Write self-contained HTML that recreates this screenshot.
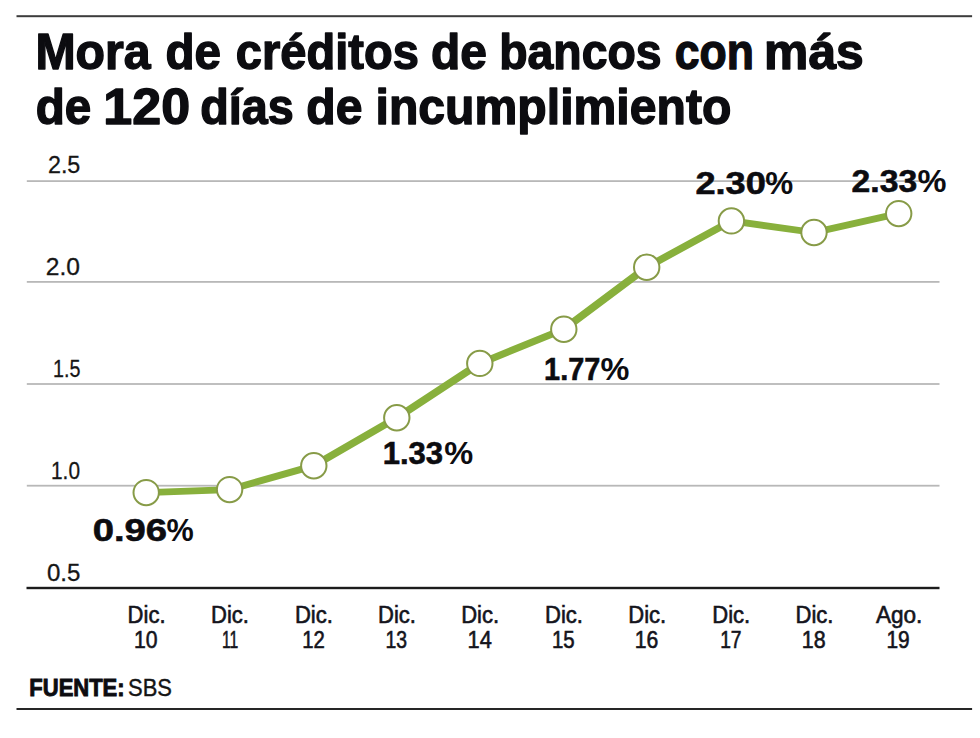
<!DOCTYPE html>
<html lang="es">
<head>
<meta charset="utf-8">
<title>Mora de créditos de bancos</title>
<style>
html,body{margin:0;padding:0;background:#fff;}
body{width:980px;height:738px;overflow:hidden;font-family:"Liberation Sans",sans-serif;}
svg{display:block;position:absolute;left:0;top:0;}
text{font-family:"Liberation Sans",sans-serif;fill:#111;}
.title{font-weight:bold;fill:#0c0c10;stroke:#0c0c10;stroke-width:1.4px;stroke-linejoin:round;}
.ylab{fill:#161616;stroke:#161616;stroke-width:0.3px;}
.xlab{fill:#14141c;stroke:#14141c;stroke-width:0.6px;}
.val{font-weight:bold;fill:#0c0c10;stroke:#0c0c10;stroke-width:0.6px;}
.pct{font-weight:bold;fill:#0c0c10;}
.src{fill:#141414;stroke:#141414;stroke-width:0.4px;}
.srcb{fill:#0c0c10;stroke:#0c0c10;stroke-width:0.9px;}
</style>
</head>
<body>
<svg width="980" height="738" viewBox="0 0 980 738">
  <rect x="0" y="0" width="980" height="738" fill="#ffffff"/>
  <!-- top & bottom rules -->
  <rect x="16.5" y="15.2" width="955.6" height="2" fill="#3c3c3c"/>
  <rect x="16.5" y="708" width="955.6" height="2" fill="#262626"/>
  <!-- gridlines -->
  <rect x="26.8" y="180.2" width="912.7" height="1.8" fill="#b8b8b8"/>
  <rect x="26.8" y="281.0" width="912.7" height="1.8" fill="#b8b8b8"/>
  <rect x="26.8" y="383.1" width="912.7" height="1.8" fill="#b8b8b8"/>
  <rect x="26.8" y="484.8" width="912.7" height="1.8" fill="#b8b8b8"/>
  <rect x="26.5" y="586.8" width="913" height="2.4" fill="#1c1c1c"/>
  <!-- title -->
  <text class="title" x="35.41" y="69.2" font-size="50" font-weight="bold" textLength="115.24" lengthAdjust="spacingAndGlyphs">Mora</text>
  <text class="title" x="165.50" y="69.2" font-size="50" font-weight="bold" textLength="55.57" lengthAdjust="spacingAndGlyphs">de</text>
  <text class="title" x="235.76" y="69.2" font-size="50" font-weight="bold" textLength="183.14" lengthAdjust="spacingAndGlyphs">créditos</text>
  <text class="title" x="430.88" y="69.2" font-size="50" font-weight="bold" textLength="55.99" lengthAdjust="spacingAndGlyphs">de</text>
  <text class="title" x="499.22" y="69.2" font-size="50" font-weight="bold" textLength="162.36" lengthAdjust="spacingAndGlyphs">bancos</text>
  <text class="title" x="674.71" y="69.2" font-size="50" font-weight="bold" textLength="79.15" lengthAdjust="spacingAndGlyphs">con</text>
  <text class="title" x="764.11" y="69.2" font-size="50" font-weight="bold" textLength="99.69" lengthAdjust="spacingAndGlyphs">más</text>
  <text class="title" x="35.70" y="124.1" font-size="50" font-weight="bold" textLength="55.57" lengthAdjust="spacingAndGlyphs">de</text>
  <text class="title" x="103.38" y="124.1" font-size="50" font-weight="bold" textLength="86.70" lengthAdjust="spacingAndGlyphs">120</text>
  <text class="title" x="200.13" y="124.1" font-size="50" font-weight="bold" textLength="93.56" lengthAdjust="spacingAndGlyphs">días</text>
  <text class="title" x="306.27" y="124.1" font-size="50" font-weight="bold" textLength="56.20" lengthAdjust="spacingAndGlyphs">de</text>
  <text class="title" x="375.51" y="124.1" font-size="50" font-weight="bold" textLength="355.88" lengthAdjust="spacingAndGlyphs">incumplimiento</text>
  <!-- y axis labels -->
  <text class="ylab" x="47.93" y="173.2" font-size="24" textLength="32.41" lengthAdjust="spacingAndGlyphs">2.5</text>
  <text class="ylab" x="45.88" y="274.6" font-size="24" textLength="34.18" lengthAdjust="spacingAndGlyphs">2.0</text>
  <text class="ylab" x="53.08" y="377.3" font-size="24" textLength="27.41" lengthAdjust="spacingAndGlyphs">1.5</text>
  <text class="ylab" x="51.03" y="479.2" font-size="24" textLength="28.97" lengthAdjust="spacingAndGlyphs">1.0</text>
  <text class="ylab" x="46.90" y="580.8" font-size="24" textLength="33.45" lengthAdjust="spacingAndGlyphs">0.5</text>
  <!-- data line -->
  <g transform="scale(1.3,1)"><polyline fill="none" stroke="#88b03c" stroke-width="6.8" stroke-linejoin="round" stroke-linecap="round" points="112.462,492.6 176.615,489.6 241.385,465.8 305.231,417.8 369.077,363.4 433.692,329.3 497.462,267.2 562.615,220.9 626.154,232.5 691.308,213.6"/></g>
  <g fill="#ffffff" stroke="#879b47" stroke-width="2">
    <circle cx="146.2" cy="492.6" r="12.7"/>
    <circle cx="229.6" cy="489.6" r="12.7"/>
    <circle cx="313.8" cy="465.8" r="12.7"/>
    <circle cx="396.8" cy="417.8" r="12.7"/>
    <circle cx="479.8" cy="363.4" r="12.7"/>
    <circle cx="563.8" cy="329.3" r="12.7"/>
    <circle cx="646.7" cy="267.2" r="12.7"/>
    <circle cx="731.4" cy="220.9" r="12.7"/>
    <circle cx="814" cy="232.5" r="12.7"/>
    <circle cx="898.7" cy="213.6" r="12.7"/>
  </g>
  <!-- value labels -->
  <text class="val" x="92.70" y="541.0" font-size="32" font-weight="bold" textLength="74.45" lengthAdjust="spacingAndGlyphs">0.96</text>
  <text class="pct" x="166.60" y="541.0" font-size="32" font-weight="bold" textLength="27.23" lengthAdjust="spacingAndGlyphs">%</text>
  <text class="val" x="382.66" y="464.2" font-size="32" font-weight="bold" textLength="60.41" lengthAdjust="spacingAndGlyphs">1.33</text>
  <text class="pct" x="444.30" y="464.2" font-size="32" font-weight="bold" textLength="28.96" lengthAdjust="spacingAndGlyphs">%</text>
  <text class="val" x="544.09" y="379.5" font-size="32" font-weight="bold" textLength="56.22" lengthAdjust="spacingAndGlyphs">1.77</text>
  <text class="pct" x="600.40" y="379.5" font-size="32" font-weight="bold" textLength="28.86" lengthAdjust="spacingAndGlyphs">%</text>
  <text class="val" x="695.47" y="194.0" font-size="32" font-weight="bold" textLength="70.33" lengthAdjust="spacingAndGlyphs">2.30</text>
  <text class="pct" x="765.20" y="194.0" font-size="32" font-weight="bold" textLength="27.95" lengthAdjust="spacingAndGlyphs">%</text>
  <text class="val" x="851.55" y="191.6" font-size="32" font-weight="bold" textLength="65.59" lengthAdjust="spacingAndGlyphs">2.33</text>
  <text class="pct" x="917.60" y="191.6" font-size="32" font-weight="bold" textLength="28.96" lengthAdjust="spacingAndGlyphs">%</text>
  <!-- x axis labels -->
  <text class="xlab" x="127.61" y="623.4" font-size="23.5" textLength="37.97" lengthAdjust="spacingAndGlyphs">Dic.</text>
  <text class="xlab" x="133.90" y="648.3" font-size="23.5" textLength="23.56" lengthAdjust="spacingAndGlyphs">10</text>
  <text class="xlab" x="211.04" y="623.4" font-size="23.5" textLength="37.97" lengthAdjust="spacingAndGlyphs">Dic.</text>
  <text class="xlab" x="222.01" y="648.3" font-size="23.5" textLength="16.28" lengthAdjust="spacingAndGlyphs">11</text>
  <text class="xlab" x="294.96" y="623.4" font-size="23.5" textLength="37.97" lengthAdjust="spacingAndGlyphs">Dic.</text>
  <text class="xlab" x="302.34" y="648.3" font-size="23.5" textLength="22.59" lengthAdjust="spacingAndGlyphs">12</text>
  <text class="xlab" x="377.99" y="623.4" font-size="23.5" textLength="37.97" lengthAdjust="spacingAndGlyphs">Dic.</text>
  <text class="xlab" x="385.55" y="648.3" font-size="23.5" textLength="21.58" lengthAdjust="spacingAndGlyphs">13</text>
  <text class="xlab" x="461.21" y="623.4" font-size="23.5" textLength="37.97" lengthAdjust="spacingAndGlyphs">Dic.</text>
  <text class="xlab" x="467.57" y="648.3" font-size="23.5" textLength="24.19" lengthAdjust="spacingAndGlyphs">14</text>
  <text class="xlab" x="545.01" y="623.4" font-size="23.5" textLength="37.97" lengthAdjust="spacingAndGlyphs">Dic.</text>
  <text class="xlab" x="551.98" y="648.3" font-size="23.5" textLength="22.73" lengthAdjust="spacingAndGlyphs">15</text>
  <text class="xlab" x="628.26" y="623.4" font-size="23.5" textLength="37.97" lengthAdjust="spacingAndGlyphs">Dic.</text>
  <text class="xlab" x="634.80" y="648.3" font-size="23.5" textLength="23.56" lengthAdjust="spacingAndGlyphs">16</text>
  <text class="xlab" x="712.26" y="623.4" font-size="23.5" textLength="37.97" lengthAdjust="spacingAndGlyphs">Dic.</text>
  <text class="xlab" x="720.16" y="648.3" font-size="23.5" textLength="21.39" lengthAdjust="spacingAndGlyphs">17</text>
  <text class="xlab" x="795.49" y="623.4" font-size="23.5" textLength="37.97" lengthAdjust="spacingAndGlyphs">Dic.</text>
  <text class="xlab" x="801.71" y="648.3" font-size="23.5" textLength="23.88" lengthAdjust="spacingAndGlyphs">18</text>
  <text class="xlab" x="875.88" y="623.4" font-size="23.5" textLength="46.47" lengthAdjust="spacingAndGlyphs">Ago.</text>
  <text class="xlab" x="886.51" y="648.3" font-size="23.5" textLength="23.24" lengthAdjust="spacingAndGlyphs">19</text>
  <!-- source -->
  <text class="srcb" x="29.36" y="696.0" font-size="23.5" font-weight="bold" textLength="95.24" lengthAdjust="spacingAndGlyphs">FUENTE:</text>
  <text class="src" x="128.07" y="696.0" font-size="23.5" textLength="43.86" lengthAdjust="spacingAndGlyphs">SBS</text>
</svg>
</body>
</html>
